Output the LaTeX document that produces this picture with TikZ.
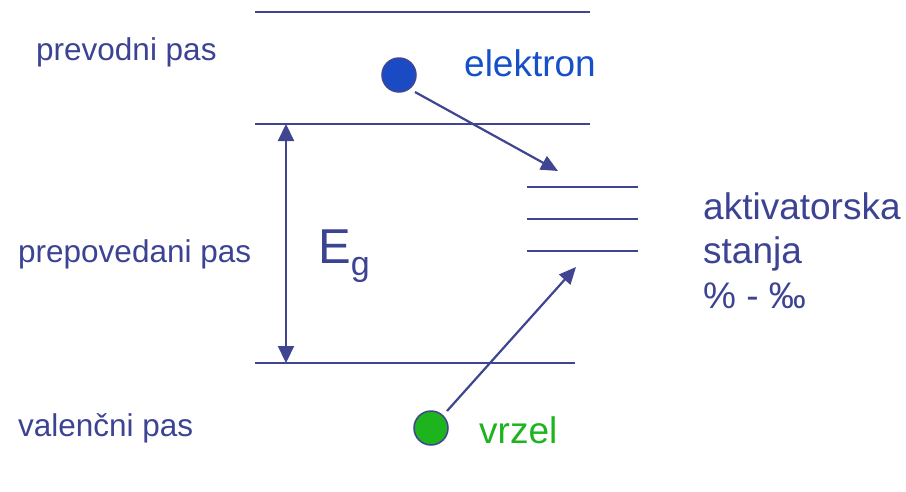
\documentclass[tikz,border=0pt]{standalone}
\usepackage{fontspec}
\setmainfont{Liberation Sans}
\usetikzlibrary{arrows.meta}
\definecolor{lineblue}{HTML}{3F4590}
\definecolor{textblue}{HTML}{3C4392}
\definecolor{elblue}{HTML}{1650C8}
\definecolor{elfill}{HTML}{1A4BC4}
\definecolor{hgreen}{HTML}{1DB41D}
\tikzset{
  level/.style={draw=lineblue, line width=2.2pt},
  lbl/.style={anchor=base west, inner sep=0pt, text=textblue, font=\fontsize{31.5}{37}\selectfont},
  big/.style={anchor=base west, inner sep=0pt, font=\fontsize{37}{44}\selectfont},
  particle/.style={circle, draw=lineblue, line width=1.5pt, minimum size=34pt, inner sep=0pt},
  tr/.style={draw=lineblue, line width=2.2pt, -{Triangle[length=17pt,width=15pt]}},
}
\begin{document}
\begin{tikzpicture}[x=1pt,y=-1pt]
\useasboundingbox (0,0) rectangle (906,491);
% band edges
\coordinate (t1) at (255,12);  \coordinate (t2) at (590,12);
\coordinate (c1) at (255,124); \coordinate (c2) at (590,124);
\coordinate (v1) at (255,363); \coordinate (v2) at (575,363);
\draw[level] (t1) -- (t2);
\draw[level] (c1) -- (c2);
\draw[level] (v1) -- (v2);
% activator levels
\coordinate (a1) at (527,187); \coordinate (a1e) at (638,187);
\coordinate (a2) at (527,219); \coordinate (a2e) at (638,219);
\coordinate (a3) at (527,251); \coordinate (a3e) at (638,251);
\draw[level] (a1) -- (a1e);
\draw[level] (a2) -- (a2e);
\draw[level] (a3) -- (a3e);
% band gap arrow
\coordinate (gt) at (286,124); \coordinate (gb) at (286,363);
\draw[draw=lineblue, line width=2.2pt, {Triangle[length=17pt,width=16pt]}-{Triangle[length=17pt,width=16pt]}] (gt) -- (gb);
\node[anchor=base west, inner sep=0pt, text=textblue] (eg) at (318,263)
  {\fontsize{49}{55}\selectfont E\raisebox{-12pt}{\fontsize{34}{40}\selectfont g}};
% labels
\node[lbl] (lp) at (36,60) {prevodni pas};
\node[lbl] (lf) at (18,262) {prepovedani pas};
\node[lbl] (lv) at (18,436) {valenčni pas};
\node[big, text=elblue] (lel) at (464,76) {elektron};
\node[big, text=hgreen] (lh) at (479,443) {vrzel};
\node[big, text=textblue] (la1) at (703,219) {aktivatorska};
\node[big, text=textblue] (la2) at (703,263) {stanja};
\node[big, text=textblue] (la3) at (703,308) {\% - ‰};
% particles
\node[particle, fill=elfill] (el) at (399,75) {};
\node[particle, fill=hgreen] (ho) at (431,428) {};
\coordinate (es) at (415,92);
\coordinate (ee) at (558,171);
\coordinate (hs) at (447,411);
\coordinate (he) at (576,267);
\draw[tr] (es) -- (ee);
\draw[tr] (hs) -- (he);
\end{tikzpicture}
\end{document}
